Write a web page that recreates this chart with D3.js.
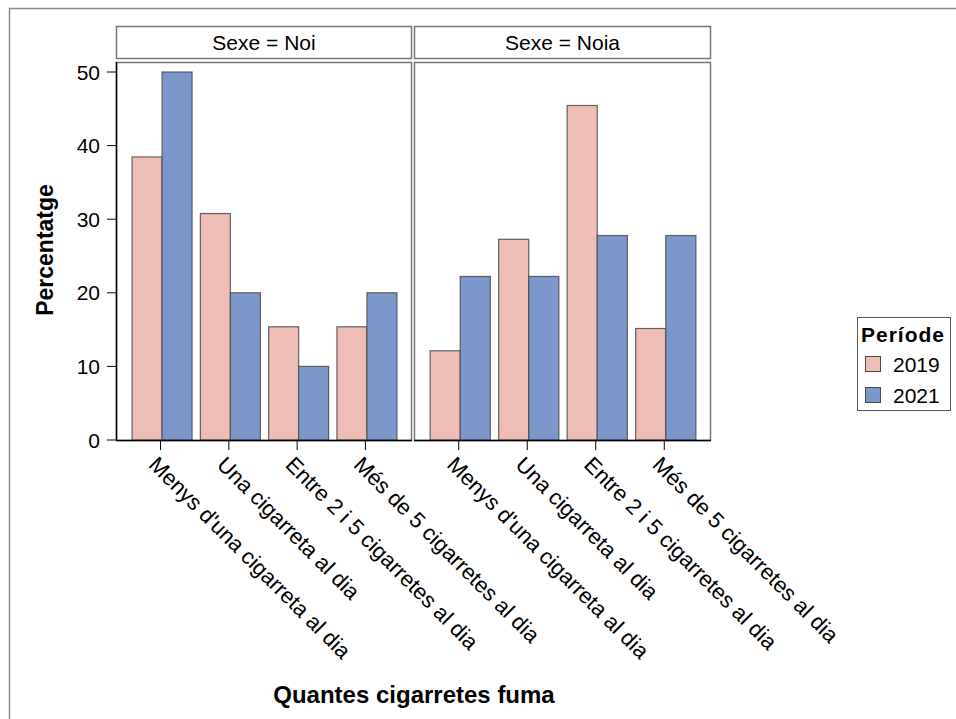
<!DOCTYPE html>
<html><head><meta charset="utf-8">
<script src="https://cdn.jsdelivr.net/npm/d3@7"></script>
<style>body{margin:0;background:#fff}svg{display:block;font-family:"Liberation Sans",Arial,sans-serif}</style>
</head><body><svg id="c" width="956" height="719"></svg>
<script>
const categories = ["Menys d'una cigarreta al dia","Una cigarreta al dia","Entre 2 i 5 cigarretes al dia","Més de 5 cigarretes al dia"];
const panels = ["Noi","Noia"];
const periods = ["2019","2021"];
const noi2019 = [38.46,30.77,15.38,15.38];
const noi2021 = [50,20,10,20];
const noia2019 = [12.12,27.27,45.45,15.15];
const noia2021 = [22.22,22.22,27.78,27.78];
const yTicks = [0,10,20,30,40,50];
const colors = ["#EFBDB6","#7C97CC"];

const values = {Noi:[noi2019,noi2021], Noia:[noia2019,noia2021]};

const svg = d3.select("#c");
// outer frame
svg.append("rect").attr("x",9.5).attr("y",8.5).attr("width",1000).attr("height",1000)
  .attr("fill","none").attr("stroke","#8a8a8a").attr("stroke-width",1.5);

const panelTop = 62, panelBottom = 440;
const panelX = [[116,412],[414,711]];
const y = d3.scaleLinear().domain([0,50]).range([440,72]);
const color = d3.scaleOrdinal().domain(periods).range(colors);

panels.forEach((p,pi)=>{
  const [x0,x1] = panelX[pi];
  const g = svg.append("g");
  // header strip
  g.append("rect").attr("x",x0+0.5).attr("y",26.5).attr("width",x1-x0-1).attr("height",32)
    .attr("fill","#fff").attr("stroke","#777").attr("stroke-width",1.5);
  g.append("text").attr("x",(x0+x1)/2).attr("y",50).attr("text-anchor","middle")
    .attr("font-size",21).attr("fill","#000").text("Sexe = "+p);
  // panel frame
  g.append("rect").attr("x",x0+0.5).attr("y",panelTop+0.5).attr("width",x1-x0-1).attr("height",panelBottom-panelTop)
    .attr("fill","#fff").attr("stroke","#777").attr("stroke-width",1.5);

  const x = d3.scaleBand().domain(categories).range([x0,x1]).paddingInner(0.1215).paddingOuter(0.228);
  const xs = d3.scaleBand().domain(periods).range([0,x.bandwidth()]);

  periods.forEach((per,si)=>{
    g.selectAll(null).data(categories).enter().append("rect")
      .attr("x",(d)=>x(d)+xs(per)+0.5)
      .attr("y",(d,i)=>y(values[p][si][i]))
      .attr("width",xs.bandwidth())
      .attr("height",(d,i)=>y(0)-y(values[p][si][i]))
      .attr("fill",color(per))
      .attr("stroke","#4a4a4a").attr("stroke-opacity",0.85).attr("stroke-width",1.2);
  });

  // x axis
  const xa = g.append("g").attr("transform",`translate(0,${panelBottom})`);
  xa.append("line").attr("x1",x0).attr("x2",x1).attr("y1",0.5).attr("y2",0.5).attr("stroke","#000").attr("stroke-width",1.5);
  categories.forEach(c=>{
    const cx = x(c)+x.bandwidth()/2 - 1;
    xa.append("line").attr("x1",cx).attr("x2",cx).attr("y1",0).attr("y2",10).attr("stroke","#000");
    xa.append("text").attr("transform",`translate(${cx-13},${26}) rotate(45)`)
      .attr("font-size",22).attr("fill","#000").attr("text-anchor","start").text(c);
  });
});

// y axis
const ya = svg.append("g").attr("transform","translate(116,0)");
ya.append("line").attr("x1",0.5).attr("x2",0.5).attr("y1",panelTop).attr("y2",panelBottom).attr("stroke","#000").attr("stroke-width",1.5);
yTicks.forEach(t=>{
  ya.append("line").attr("x1",-9).attr("x2",0).attr("y1",y(t)).attr("y2",y(t)).attr("stroke","#000");
  ya.append("text").attr("x",-16).attr("y",y(t)).attr("dy","0.36em").attr("text-anchor","end")
    .attr("font-size",21).attr("fill","#000").text(t);
});

// axis titles
svg.append("text").attr("transform","translate(53,250) rotate(-90)").attr("text-anchor","middle")
  .attr("font-size",23).attr("font-weight","bold").attr("fill","#000").text("Percentatge");
svg.append("text").attr("x",414).attr("y",703).attr("text-anchor","middle")
  .attr("font-size",24).attr("font-weight","bold").attr("fill","#000").text("Quantes cigarretes fuma");

// legend
const lg = svg.append("g");
lg.append("rect").attr("x",857.5).attr("y",317.5).attr("width",93).attr("height",93)
  .attr("fill","#fff").attr("stroke","#555").attr("stroke-width",1);
lg.append("text").attr("x",861).attr("y",342).attr("font-size",21).attr("font-weight","bold")
  .attr("letter-spacing",1).attr("fill","#000").text("Període");
periods.forEach((per,i)=>{
  lg.append("rect").attr("x",865.5).attr("y",356.5+i*31).attr("width",15).attr("height",15)
    .attr("fill",color(per)).attr("stroke","#4a4a4a").attr("stroke-width",1);
  lg.append("text").attr("x",893).attr("y",372+i*31).attr("font-size",21).attr("fill","#000").text(per);
});
</script></body></html>
